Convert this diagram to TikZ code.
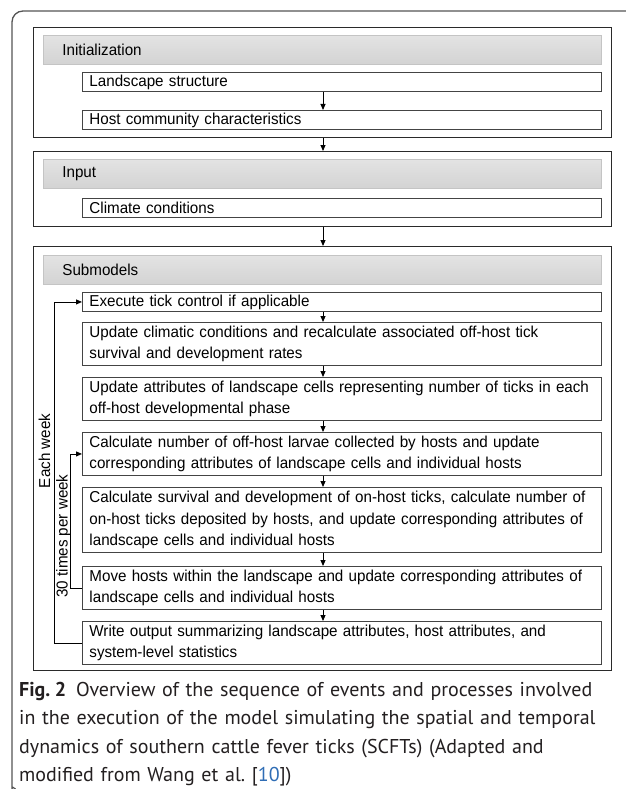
\documentclass[tikz,border=0pt]{standalone}
\usepackage{fontspec}
\setmainfont{Liberation Sans}[FakeStretch=0.96]
\newfontfamily\capfont{PT Sans}
\usetikzlibrary{arrows.meta}
\definecolor{frame}{HTML}{555555}
\definecolor{boxline}{HTML}{444444}
\definecolor{grpline}{HTML}{2A2A2A}
\definecolor{hdrline}{HTML}{C4C4C4}
\definecolor{hdrtop}{HTML}{E3E3E3}
\definecolor{hdrbot}{HTML}{D3D3D3}
\definecolor{linkblue}{HTML}{2F6DB5}
\definecolor{captext}{HTML}{231F20}
\newcommand{\boxfont}{\fontsize{15.8}{21.5}\selectfont}
\newcommand{\bxl}[1]{\mbox{#1}}
\begin{document}
\begin{tikzpicture}[x=1pt,y=-1pt,
  bx/.style={draw=boxline, line width=0.9pt, fill=white, anchor=north west,
    minimum width=519pt, text width=505pt, inner xsep=7pt, inner ysep=0pt,
    align=left, font=\boxfont},
  hdr/.style={draw=hdrline, line width=0.8pt, top color=hdrtop, bottom color=hdrbot,
    anchor=north west, minimum width=558pt, minimum height=29pt, text width=520pt,
    inner xsep=19pt, inner ysep=0pt, align=left, font=\boxfont},
  grp/.style={draw=grpline, line width=1pt, anchor=north west, minimum width=578pt,
    inner sep=0pt},
  arr/.style={-{Triangle[length=6pt,width=5pt]}, line width=0.9pt, draw=black},
  lbl/.style={rotate=90, font=\boxfont, inner sep=0pt}
]
\useasboundingbox (0,0) rectangle (625,789);
% outer frame
\draw[frame, line width=1.3pt, rounded corners=11pt]
  (15.5,789) .. controls (12.5,787.5) and (12,785) .. (12,780) -- (12,11) -- (626,11);
\coordinate (ax) at (323,0);
\coordinate (lo) at (54,0);
\coordinate (li) at (70,0);
% Initialization
\node[grp, minimum height=110pt] (init) at (33,27) {};
\node[hdr] (inith) at (43,35) {Initialization};
\node[bx, minimum height=19pt] (ls) at (82,72) {\bxl{Landscape structure}};
\node[bx, minimum height=19pt] (host) at (82,110) {\bxl{Host community characteristics}};
\draw[arr] (ls.south -| ax) -- (host.north -| ax);
% Input
\node[grp, minimum height=75pt] (input) at (33,151) {};
\node[hdr] (inputh) at (43,159) {Input};
\node[bx, minimum height=19pt] (clim) at (82,198) {\bxl{Climate conditions}};
\draw[arr] (init.south -| ax) -- (input.north -| ax);
% Submodels
\node[grp, minimum height=424pt] (subm) at (33,246) {};
\node[hdr] (submh) at (43,255) {Submodels};
\draw[arr] (input.south -| ax) -- (subm.north -| ax);
\node[bx, minimum height=19pt] (exec) at (82,292) {\bxl{Execute tick control if applicable}};
\node[bx, minimum height=43pt] (upcl) at (82,322) {\bxl{Update climatic conditions and recalculate associated off-host tick}\\\bxl{survival and development rates}};
\node[bx, minimum height=43pt] (upat) at (82,377) {\bxl{Update attributes of landscape cells representing number of ticks in each}\\\bxl{off-host developmental phase}};
\node[bx, minimum height=43pt] (larv) at (82,432) {\bxl{Calculate number of off-host larvae collected by hosts and update}\\\bxl{corresponding attributes of landscape cells and individual hosts}};
\node[bx, minimum height=65pt] (surv) at (82,487) {\bxl{Calculate survival and development of on-host ticks, calculate number of}\\\bxl{on-host ticks deposited by hosts, and update corresponding attributes of}\\\bxl{landscape cells and individual hosts}};
\node[bx, minimum height=43pt] (move) at (82,566) {\bxl{Move hosts within the landscape and update corresponding attributes of}\\\bxl{landscape cells and individual hosts}};
\node[bx, minimum height=43pt] (write) at (82,621) {\bxl{Write output summarizing landscape attributes, host attributes, and}\\\bxl{system-level statistics}};
\draw[arr] (exec.south -| ax) -- (upcl.north -| ax);
\draw[arr] (upcl.south -| ax) -- (upat.north -| ax);
\draw[arr] (upat.south -| ax) -- (larv.north -| ax);
\draw[arr] (larv.south -| ax) -- (surv.north -| ax);
\draw[arr] (surv.south -| ax) -- (move.north -| ax);
\draw[arr] (move.south -| ax) -- (write.north -| ax);
% loops
\draw[arr] (write.west) -- (write.west -| lo) -- (exec.west -| lo) -- (exec.west);
\draw[arr] (move.west) -- (move.west -| li) -- (larv.west -| li) -- (larv.west);
\node[lbl] (eachw) at (44.5,451) {Each week};
\node[lbl] (thirty) at (63.5,536) {30 times per week};
% caption
\node[anchor=north west, inner sep=0pt, text width=600pt, align=left,
  font=\capfont\fontsize{20}{28.3}\selectfont, text=captext] (cap) at (19,682)
  {\textbf{Fig.\hspace{0.22em}2}\hspace{0.5em}Overview of the sequence of events and processes involved\\
   in the execution of the model simulating the spatial and temporal\\
   dynamics of southern cattle fever ticks (SCFTs) (Adapted and\\
   modified from Wang et al.\ [\textcolor{linkblue}{10}])};
\end{tikzpicture}
\end{document}
